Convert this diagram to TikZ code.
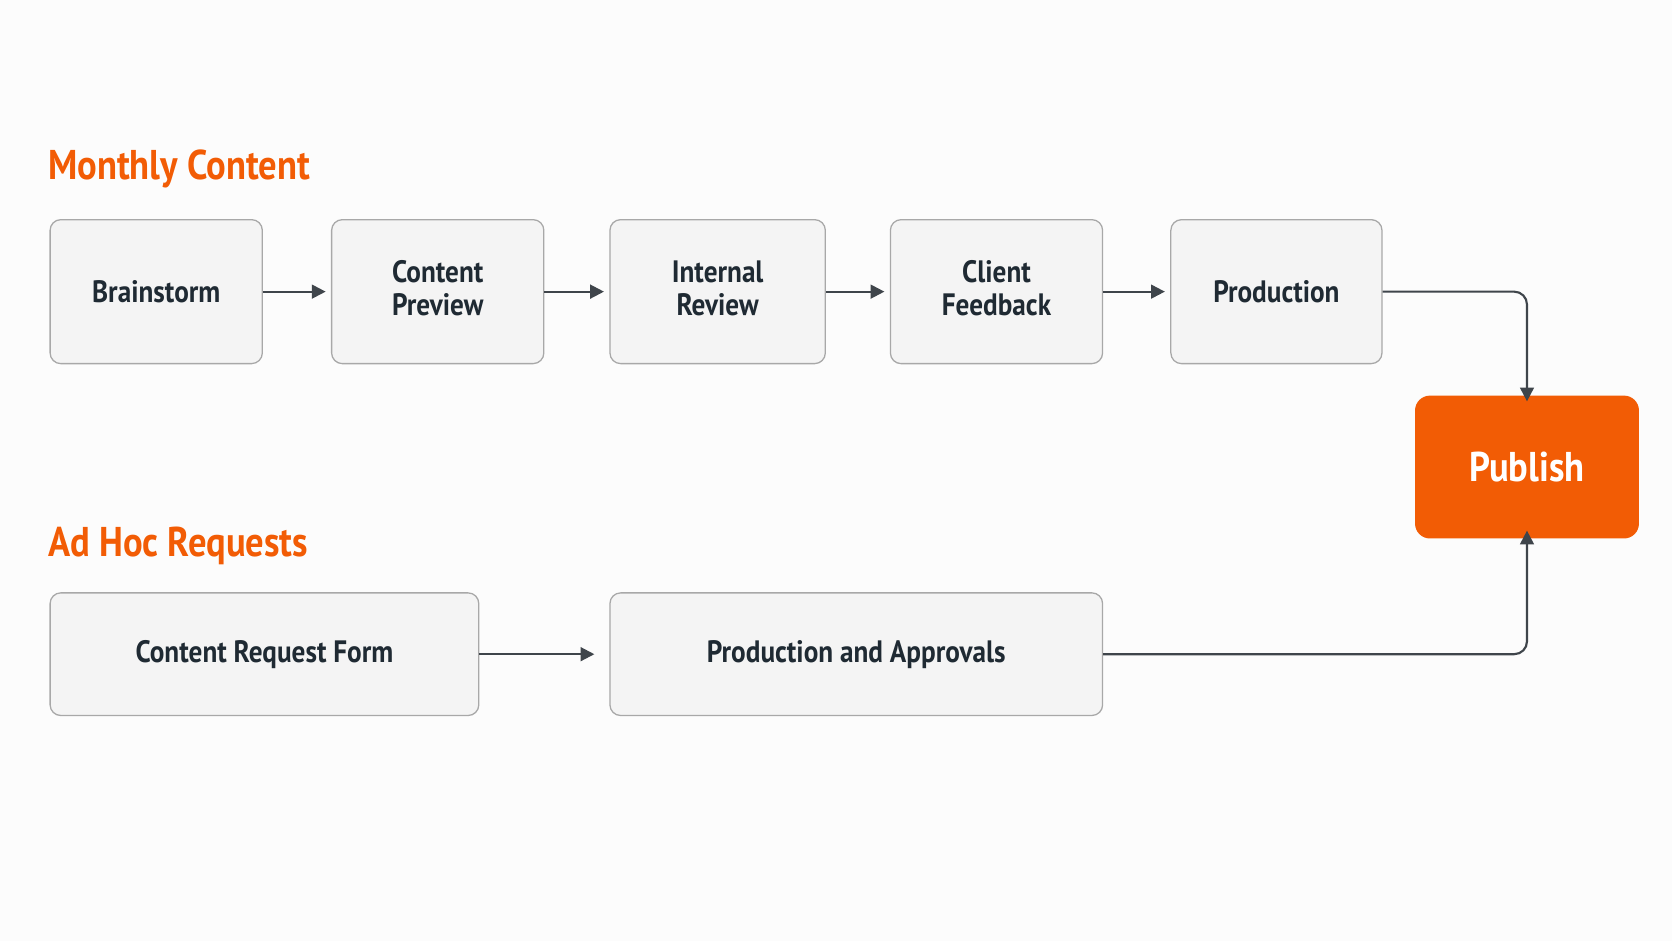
\documentclass[tikz,border=0pt]{standalone}
\usepackage{fontspec}
\setmainfont{PT Sans}
\usetikzlibrary{arrows.meta}
\definecolor{org}{HTML}{F25C05}
\definecolor{bx}{HTML}{F4F4F4}
\definecolor{bd}{HTML}{A8A8A8}
\definecolor{ln}{HTML}{3F454B}
\definecolor{tx}{HTML}{1F2A33}
\begin{document}
\begin{tikzpicture}[x=1pt,y=-1pt,
 box/.style={draw=bd,line width=1.2pt,fill=bx,rounded corners=10pt,font=\fontsize{29}{33}\selectfont\bfseries,text=tx,align=center,inner sep=0pt},
 ttl/.style={anchor=west,text=org,font=\fontsize{39}{41}\selectfont\bfseries,inner sep=0pt},
 arr/.style={draw=ln,line width=2pt,-{Triangle[length=13pt,width=13pt]},rounded corners=12pt}]
\useasboundingbox[fill=white!98!gray] (0,0) rectangle (1568,882);
\node[ttl] (t1) at (45,158) {\scalebox{0.88}[1]{Monthly Content}};
\node[ttl] (t2) at (45,512) {\scalebox{0.88}[1]{Ad Hoc Requests}};
\newcommand{\bxn}[6]{\node[box,minimum width=#4-#3,minimum height=#6-#5] (#1) at ({(#3+#4)/2},{(#5+#6)/2}) {\scalebox{0.88}[1]{#2}};}
\newcommand{\two}[2]{\begin{tabular}{@{}c@{}}#1\\[-2pt]#2\end{tabular}}
\bxn{b1}{Brainstorm}{47}{246}{206}{341}
\bxn{b2}{\two{Content}{Preview}}{311}{510}{206}{341}
\bxn{b3}{\two{Internal}{Review}}{572}{774}{206}{341}
\bxn{b4}{\two{Client}{Feedback}}{835}{1034}{206}{341}
\bxn{b5}{Production}{1098}{1296}{206}{341}
\bxn{c1}{Content Request Form}{47}{449}{556}{671}
\bxn{c2}{Production and Approvals}{572}{1034}{556}{671}
\node[box,draw=none,fill=org,text=white,rounded corners=14pt,minimum width=210,minimum height=134,font=\fontsize{39}{41}\selectfont\bfseries] (p) at (1432,438) {\scalebox{0.88}[1]{Publish}};
\draw[arr] (b1.east) -- ([xshift=-5]b2.west);
\draw[arr] (b2.east) -- ([xshift=-5]b3.west);
\draw[arr] (b3.east) -- ([xshift=-5]b4.west);
\draw[arr] (b4.east) -- ([xshift=-5]b5.west);
\draw[arr] (c1.east) -- ([xshift=-14]c2.west);
\draw[arr] (b5.east) -| ([yshift=-6]p.north);
\draw[arr] (c2.east) -| ([yshift=8]p.south);
\end{tikzpicture}
\end{document}
